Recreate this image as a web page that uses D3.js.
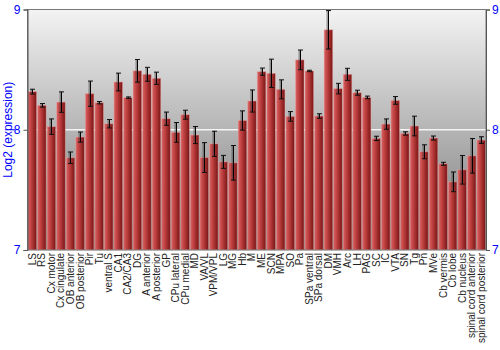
<!DOCTYPE html>
<html>
<head>
<meta charset="utf-8">
<script src="https://cdn.jsdelivr.net/npm/d3@7"></script>
<style>
  body { margin: 0; background: #fff; }
  text { font-family: "Liberation Sans", Arial, sans-serif; }
</style>
</head>
<body>
<div id="chart"></div>
<script>
// Regions, mean log2 expression and error (half-length)
const regions = ['LS', 'RS', 'Cx motor', 'Cx cingulate', 'OB anterior', 'OB posterior', 'Pir', 'Tu',
    'ventral S', 'CA1', 'CA2/CA3', 'DG', 'A anterior', 'A posterior', 'GP', 'CPu lateral', 'CPu medial',
    'MD', 'VA/VL', 'VPM/VPL', 'LG', 'MG', 'Hb', 'M', 'ME', 'SCN', 'MPA', 'SO', 'Pa', 'SPa ventral',
    'SPa dorsal', 'DM', 'VMH', 'Arc', 'LH', 'PAG', 'SC', 'IC', 'VTA', 'SN', 'Tg', 'Pn', 'MVe',
    'Cb vermis', 'Cb lobe', 'Cb nucleus', 'spinal cord anterior', 'spinal cord posterior'];
const means = [8.317, 8.203, 8.026, 8.23, 7.767, 7.939, 8.30, 8.225,
    8.05, 8.397, 8.267, 8.49, 8.461, 8.428, 8.092, 7.978, 8.125,
    7.956, 7.769, 7.883, 7.733, 7.725, 8.077, 8.239, 8.483, 8.469, 8.336, 8.111, 8.581, 8.489,
    8.114, 8.831, 8.342, 8.461, 8.308, 8.269, 7.928, 8.047, 8.244, 7.969, 8.031, 7.817, 7.931,
    7.717, 7.567, 7.667, 7.783, 7.914];
const errors = [0.02, 0.015, 0.064, 0.085, 0.048, 0.042, 0.105, 0.01,
    0.035, 0.074, 0.006, 0.094, 0.058, 0.051, 0.055, 0.082, 0.0375,
    0.071, 0.124, 0.105, 0.054, 0.144, 0.08, 0.092, 0.03, 0.118, 0.079, 0.04, 0.082, 0.006,
    0.019, 0.16, 0.044, 0.05, 0.021, 0.011, 0.018, 0.043, 0.032, 0.014, 0.082, 0.058, 0.017,
    0.0125, 0.082, 0.119, 0.144, 0.028];
const yTicks = [7, 8, 9];

const svgWidth = 500, svgHeight = 350;
const plotLeft = 27.5, plotRight = 486, plotTop = 9.5, plotBottom = 250;

const svg = d3.select('#chart').append('svg')
    .attr('width', svgWidth)
    .attr('height', svgHeight);

const defs = svg.append('defs');

// background gradient of the plot area
const bg = defs.append('linearGradient')
    .attr('id', 'bg').attr('x1', 0).attr('y1', 0).attr('x2', 0).attr('y2', 1);
bg.append('stop').attr('offset', '0%').attr('stop-color', '#f3f3f3');
bg.append('stop').attr('offset', '100%').attr('stop-color', '#767676');

// bar gradient, light left to dark right
const barGrad = defs.append('linearGradient')
    .attr('id', 'bar').attr('x1', 0).attr('y1', 0).attr('x2', 1).attr('y2', 0);
barGrad.append('stop').attr('offset', '0%').attr('stop-color', '#d66464');
barGrad.append('stop').attr('offset', '35%').attr('stop-color', '#c24242');
barGrad.append('stop').attr('offset', '100%').attr('stop-color', '#781414');

// Scales
const xScale = d3.scaleBand()
    .domain(regions)
    .range([plotLeft, plotRight])
    .paddingInner(0.1)
    .paddingOuter(0.05);

const yScale = d3.scaleLinear()
    .domain([7, 9])
    .range([plotBottom, plotTop]);

// Plot background
svg.append('rect')
    .attr('x', plotLeft).attr('y', plotTop)
    .attr('width', plotRight - plotLeft).attr('height', plotBottom - plotTop)
    .attr('fill', 'url(#bg)');

// gridline at 8
svg.append('g')
    .selectAll('line')
    .data([8])
    .join('line')
    .attr('x1', plotLeft).attr('x2', plotRight)
    .attr('y1', d => yScale(d)).attr('y2', d => yScale(d))
    .attr('stroke', '#f4f4f4')
    .attr('stroke-width', 1.5);

const data = regions.map((r, i) => ({ region: r, mean: means[i], err: errors[i] }));

// Bars
svg.append('g')
    .selectAll('rect')
    .data(data)
    .join('rect')
    .attr('x', d => xScale(d.region))
    .attr('y', d => yScale(d.mean))
    .attr('width', xScale.bandwidth())
    .attr('height', d => plotBottom - yScale(d.mean))
    .attr('fill', 'url(#bar)')
    .attr('stroke', 'rgba(240,170,170,0.55)')
    .attr('stroke-width', 0.8);

// Error bars
const eb = svg.append('g');
const cx = d => Math.round(xScale(d.region) + xScale.bandwidth() / 2) + 0.5;
const y1 = d => Math.max(plotTop, yScale(d.mean + d.err));
const y2 = d => yScale(d.mean - d.err);

eb.selectAll('line.shadow')
    .data(data)
    .join('line')
    .attr('class', 'shadow')
    .attr('x1', d => cx(d) - 0.8).attr('x2', d => cx(d) - 0.8)
    .attr('y1', y1).attr('y2', y2)
    .attr('stroke', 'rgba(60,60,60,0.45)')
    .attr('stroke-width', 2.5);

eb.selectAll('line.stem')
    .data(data)
    .join('line')
    .attr('class', 'stem')
    .attr('x1', cx).attr('x2', cx)
    .attr('y1', y1).attr('y2', y2)
    .attr('stroke', '#000')
    .attr('stroke-width', 1);

eb.selectAll('line.capTop')
    .data(data)
    .join('line')
    .attr('class', 'capTop')
    .attr('x1', d => cx(d) - 2.5).attr('x2', d => cx(d) + 2.5)
    .attr('y1', y1).attr('y2', y1)
    .attr('stroke', '#111')
    .attr('stroke-width', 1);

eb.selectAll('line.capBottom')
    .data(data)
    .join('line')
    .attr('class', 'capBottom')
    .attr('x1', d => cx(d) - 2.5).attr('x2', d => cx(d) + 2.5)
    .attr('y1', y2).attr('y2', y2)
    .attr('stroke', '#111')
    .attr('stroke-width', 1);

// Frame
svg.append('rect')
    .attr('x', plotLeft).attr('y', plotTop)
    .attr('width', plotRight - plotLeft).attr('height', plotBottom - plotTop)
    .attr('fill', 'none')
    .attr('stroke', '#777')
    .attr('stroke-width', 1);

// Y axes (left and right)
const yAxisLeft = d3.axisLeft(yScale).tickValues(yTicks).tickSize(4).tickPadding(3).tickFormat(d3.format('d'));
const yAxisRight = d3.axisRight(yScale).tickValues(yTicks).tickSize(4).tickPadding(2).tickFormat(d3.format('d'));

const gl = svg.append('g')
    .attr('transform', 'translate(' + plotLeft + ',0)')
    .call(yAxisLeft);
const gr = svg.append('g')
    .attr('transform', 'translate(' + plotRight + ',0)')
    .call(yAxisRight);

[gl, gr].forEach(g => {
    g.select('.domain').attr('stroke', '#555');
    g.selectAll('.tick line').attr('stroke', '#555');
    g.selectAll('.tick text')
        .attr('fill', '#0000ff')
        .style('font-size', '12px')
        .style('font-family', '"Liberation Sans", Arial, sans-serif');
});

// X labels
svg.append('g')
    .selectAll('text')
    .data(regions)
    .join('text')
    .attr('transform', d => 'translate(' + (xScale(d) + xScale.bandwidth() / 2 + 3.5) + ',' + (plotBottom + 3) + ') rotate(-90)')
    .attr('text-anchor', 'end')
    .style('font-size', '10px')
    .attr('fill', '#222')
    .text(d => d);

// Y-axis title
svg.append('text')
    .attr('transform', 'rotate(-90)')
    .attr('x', -(plotTop + plotBottom) / 2)
    .attr('y', 12)
    .attr('text-anchor', 'middle')
    .attr('fill', '#0000ff')
    .style('font-size', '12px')
    .text('Log2 (expression)');
</script>
</body>
</html>
